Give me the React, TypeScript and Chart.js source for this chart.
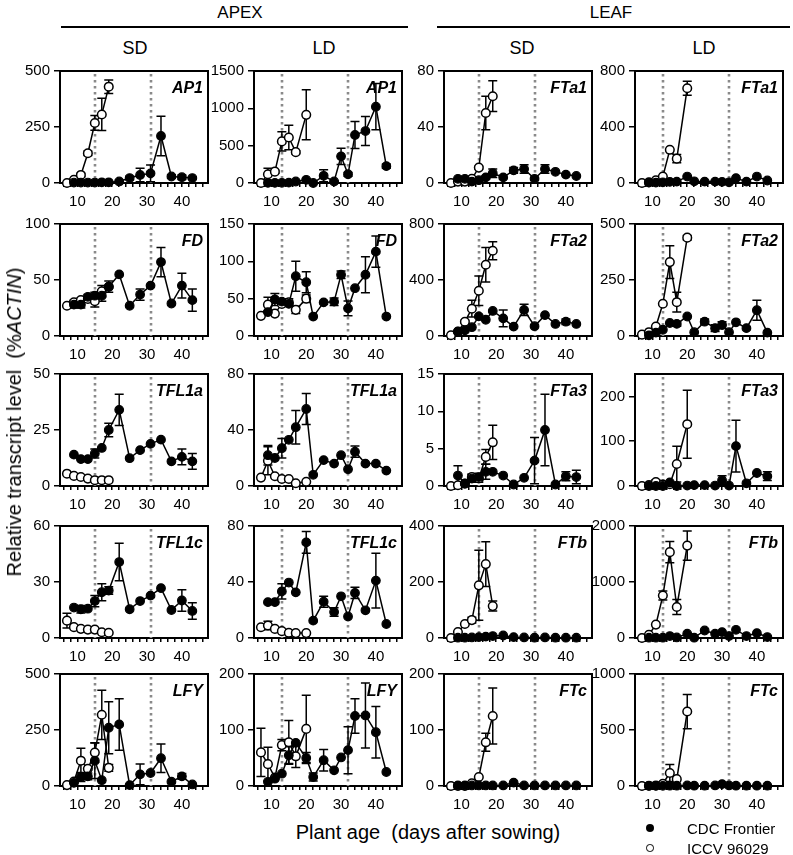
import React, { useEffect, useRef } from "react";
import { Chart, registerables } from "chart.js";

Chart.register(...registerables);

const FONT = 'Arial, "Liberation Sans", Helvetica, sans-serif';

// ---- sampling days ----
const SD_CDC_DAYS = [9, 11, 13, 15, 17, 19, 22, 25, 28, 31, 34, 37, 40, 43];
const SD_ICCV_DAYS = [7, 9, 11, 13, 15, 17, 19];
const LD_CDC_DAYS = [9, 11, 13, 15, 17, 20, 22, 25, 28, 30, 32, 34, 37, 40, 43];
const LD_ICCV_DAYS = [7, 9, 11, 13, 15, 17, 20];
const SD_MARKS = [15, 31];
const LD_MARKS = [13, 32];
const X_TICKS = [6, 8, 10, 12, 14, 16, 18, 20, 22, 24, 26, 28, 30, 32, 34, 36, 38, 40, 42, 44, 46];

// ---- APEX ----
const AP1_SD_TICKS = [0, 250, 500];
const AP1_SD_CDC = [2, 2, 2, 2, 3, 3, 7, 22, 36, 43, 210, 29, 26, 22];
const AP1_SD_CDC_ERR = [0, 0, 0, 0, 0, 0, 5, 8, 30, 37, 88, 8, 10, 5];
const AP1_SD_ICCV = [0, 14, 36, 133, 268, 306, 430];
const AP1_SD_ICCV_ERR = [0, 5, 8, 10, 33, 72, 30];

const AP1_LD_TICKS = [0, 500, 1000, 1500];
const AP1_LD_CDC = [2, 2, 3, 5, 20, 43, 0, 96, 20, 357, 117, 643, 696, 1022, 226];
const AP1_LD_CDC_ERR = [0, 0, 0, 0, 5, 10, 0, 80, 10, 110, 25, 180, 195, 310, 30];
const AP1_LD_ICCV = [0, 117, 152, 557, 609, 413, 913];
const AP1_LD_ICCV_ERR = [0, 80, 20, 130, 165, 20, 335];

const FD_SD_TICKS = [0, 50, 100];
const FD_SD_CDC = [28, 28, 35, 36, 36, 44, 55, 27, 37, 45, 66, 29, 45, 32];
const FD_SD_CDC_ERR = [3, 3, 2, 3, 5, 5, 0, 0, 5, 0, 13, 0, 11, 10];
const FD_SD_ICCV = [27, 30, 32, 33, 31, 40, 44];
const FD_SD_ICCV_ERR = [0, 2, 2, 0, 5, 5, 0];

const FD_LD_TICKS = [0, 50, 100, 150];
const FD_LD_CDC = [32, 49, 46, 43, 80, 72, 26, 45, 46, 82, 37, 64, 82, 113, 26];
const FD_LD_CDC_ERR = [0, 8, 0, 0, 20, 14, 0, 0, 5, 5, 10, 0, 24, 21, 0];
const FD_LD_ICCV = [27, 42, 30, 43, 45, 35, 50];
const FD_LD_ICCV_ERR = [0, 10, 0, 0, 5, 5, 5];

const TFL1A_SD_TICKS = [0, 25, 50];
const TFL1A_SD_CDC = [14, 12, 12, 14.5, 17, 25, 34, 12.4, 16, 18.8, 20.7, 11, 13, 11];
const TFL1A_SD_CDC_ERR = [0, 0, 0, 2, 0, 3, 7, 0, 0, 0, 0, 0, 3.5, 3.5];
const TFL1A_SD_ICCV = [5.5, 4.5, 4, 3.3, 2.6, 2.6, 2.6];
const TFL1A_SD_ICCV_ERR = [0, 0, 0, 0, 0, 0, 0];

const TFL1A_LD_TICKS = [0, 40, 80];
const TFL1A_LD_CDC = [22, 20, 27, 33, 42, 55, 8, 18.5, 16, 22, 12, 24.5, 16, 16, 11];
const TFL1A_LD_CDC_ERR = [7, 0, 7, 0, 12, 11, 0, 0, 0, 0, 0, 4, 0, 0, 0];
const TFL1A_LD_ICCV = [6, 18, 7, 5, 5, 2, 3];
const TFL1A_LD_ICCV_ERR = [0, 10, 0, 0, 0, 0, 0];

const TFL1C_SD_TICKS = [0, 30, 60];
const TFL1C_SD_CDC = [16.3, 15.4, 15.7, 19.8, 24.5, 25.4, 40.7, 15.4, 19.8, 22.7, 26.7, 15, 20.1, 14.5];
const TFL1C_SD_CDC_ERR = [0, 2, 0, 3, 4.5, 2, 10, 0, 0, 0, 0, 0, 5.8, 4.4];
const TFL1C_SD_ICCV = [9.3, 5.8, 4.9, 4.5, 4.5, 3.1, 2.8];
const TFL1C_SD_ICCV_ERR = [4, 0, 0, 0, 0, 0, 0];

const TFL1C_LD_TICKS = [0, 40, 80];
const TFL1C_LD_CDC = [25.6, 25.6, 33.3, 39.6, 32.6, 68.3, 12.4, 25.9, 18.6, 29.8, 15.4, 32.2, 19.8, 41, 10];
const TFL1C_LD_CDC_ERR = [0, 0, 5.4, 0, 0, 7.7, 0, 4, 3, 0, 0, 4, 0, 19.6, 0];
const TFL1C_LD_ICCV = [7.7, 8.9, 6.5, 4.9, 3.7, 3.5, 3.5];
const TFL1C_LD_ICCV_ERR = [0, 3, 0, 0, 0, 0, 0];

const LFY_SD_TICKS = [0, 250, 500];
const LFY_SD_CDC = [14, 40, 43, 113, 26, 260, 275, 4, 52, 58, 124, 19, 43, 7];
const LFY_SD_CDC_ERR = [0, 20, 15, 80, 0, 116, 115, 0, 46, 0, 64, 0, 13, 0];
const LFY_SD_ICCV = [4, 20, 113, 77, 149, 318, 81];
const LFY_SD_ICCV_ERR = [0, 0, 55, 0, 43, 110, 15];

const LFY_LD_TICKS = [0, 100, 200];
const LFY_LD_CDC = [7.5, 13, 22, 55, 77, 50, 16, 46, 28, 51, 64, 125, 126, 96, 25];
const LFY_LD_CDC_ERR = [0, 0, 0, 15, 0, 10, 7, 19, 0, 0, 42, 31, 58, 46, 0];
const LFY_LD_ICCV = [60, 39, 15, 73, 78, 53, 102];
const LFY_LD_ICCV_ERR = [43, 30, 0, 10, 39, 20, 60];

// ---- LEAF ----
const FTA1_SD_TICKS = [0, 40, 80];
const FTA1_SD_CDC = [3, 3, 1, 2, 4, 7, 4, 9, 10, 3, 10, 8, 6, 5];
const FTA1_SD_CDC_ERR = [0, 0, 0, 1, 1, 3, 0, 2, 3, 1, 3, 0, 0, 0];
const FTA1_SD_ICCV = [0, 1, 1, 3, 11, 50, 62];
const FTA1_SD_ICCV_ERR = [0, 0, 0, 1, 1, 12, 11];

const FTA1_LD_TICKS = [0, 400, 800];
const FTA1_LD_CDC = [3, 3, 5, 8, 10, 46, 12, 10, 10, 8, 5, 35, 10, 46, 18];
const FTA1_LD_CDC_ERR = [0, 0, 0, 0, 0, 5, 0, 0, 0, 0, 0, 0, 0, 0, 0];
const FTA1_LD_ICCV = [0, 5, 20, 46, 237, 174, 677];
const FTA1_LD_ICCV_ERR = [0, 0, 0, 0, 0, 30, 50];

const FTA2_SD_TICKS = [0, 400, 800];
const FTA2_SD_CDC = [33, 40, 63, 140, 116, 179, 126, 67, 186, 70, 149, 86, 102, 86];
const FTA2_SD_CDC_ERR = [0, 0, 0, 0, 0, 0, 60, 0, 40, 0, 0, 0, 20, 0];
const FTA2_SD_ICCV = [5, 30, 102, 195, 323, 509, 609];
const FTA2_SD_ICCV_ERR = [0, 0, 10, 60, 105, 123, 65];

const FTA2_LD_TICKS = [0, 250, 500];
const FTA2_LD_CDC = [3, 15, 28, 58, 54, 87, 17, 64, 35, 49, 17, 61, 35, 115, 15];
const FTA2_LD_CDC_ERR = [0, 0, 0, 0, 10, 0, 0, 12, 15, 15, 0, 0, 0, 45, 0];
const FTA2_LD_ICCV = [6, 17, 42, 144, 330, 151, 439];
const FTA2_LD_ICCV_ERR = [0, 0, 0, 0, 73, 44, 10];

const FTA3_SD_TICKS = [0, 5, 10, 15];
const FTA3_SD_CDC = [1.4, 0.35, 1, 1.2, 1.9, 1.9, 1.4, 0.2, 1.1, 3.4, 7.5, 0.2, 1.3, 1.2];
const FTA3_SD_CDC_ERR = [1.3, 0, 0.5, 0.5, 1, 0, 0, 0, 0, 3.1, 4.8, 0, 0.6, 0.9];
const FTA3_SD_ICCV = [0, 0.1, 0.3, 1.2, 1, 3.9, 5.85];
const FTA3_SD_ICCV_ERR = [0, 0, 0, 0.4, 0.5, 1, 2.3];

const FTA3_LD_TICKS = [0, 100, 200];
const FTA3_LD_CDC = [0, 0, 0, 8, 0, 1, 2, 2, 1, 13, 1, 89, 6, 29, 22];
const FTA3_LD_CDC_ERR = [0, 0, 0, 0, 0, 0, 0, 0, 0, 10, 0, 58, 0, 0, 10];
const FTA3_LD_ICCV = [0, 2, 9, 3, 4, 49, 138];
const FTA3_LD_ICCV_ERR = [0, 0, 5, 0, 0, 40, 76];

const FTB_SD_TICKS = [0, 200, 400];
const FTB_SD_CDC = [1, 1, 2, 3, 5, 7, 9, 3, 2, 1, 2, 1, 1, 1];
const FTB_SD_CDC_ERR = [0, 0, 0, 0, 0, 0, 0, 0, 0, 0, 0, 0, 0, 0];
const FTB_SD_ICCV = [0, 21, 50, 64, 188, 264, 114];
const FTB_SD_ICCV_ERR = [0, 0, 0, 10, 125, 80, 18];

const FTB_LD_TICKS = [0, 1000, 2000];
const FTB_LD_CDC = [5, 5, 5, 35, 10, 76, 6, 134, 76, 105, 35, 146, 35, 87, 17];
const FTB_LD_CDC_ERR = [0, 0, 0, 0, 0, 0, 0, 0, 0, 0, 0, 0, 0, 0, 0];
const FTB_LD_ICCV = [0, 58, 239, 758, 1533, 554, 1650];
const FTB_LD_ICCV_ERR = [0, 0, 0, 80, 190, 135, 262];

const FTC_SD_TICKS = [0, 100, 200];
const FTC_SD_CDC = [1, 1, 1, 1, 1, 1, 1, 6, 1, 1, 1, 1, 1, 1];
const FTC_SD_CDC_ERR = [0, 0, 0, 0, 0, 0, 0, 0, 0, 0, 0, 0, 0, 0];
const FTC_SD_ICCV = [0, 0, 0, 5, 16, 78, 125];
const FTC_SD_ICCV_ERR = [0, 0, 0, 0, 0, 16, 50];

const FTC_LD_TICKS = [0, 500, 1000];
const FTC_LD_CDC = [2, 2, 2, 3, 3, 5, 3, 3, 5, 17, 5, 3, 3, 3, 3];
const FTC_LD_CDC_ERR = [0, 0, 0, 0, 0, 0, 0, 0, 0, 0, 0, 0, 0, 0, 0];
const FTC_LD_ICCV = [0, 2, 5, 20, 116, 61, 665];
const FTC_LD_ICCV_ERR = [0, 0, 0, 0, 75, 0, 153];

// ---- layout (plot area positions) ----
const COL_LEFT = [60, 254, 444, 635];
const ROW_TOP = [68, 221, 371, 523, 671];
const PLOT_W = 148;
const PLOT_H = 115;
const PAD_TOP = 10;
const PAD_RIGHT = 8;
const Y_AXIS_W = 46;
const X_AXIS_H = 32;

const PANELS = [
  { row: 0, col: 0, gene: "AP1", sd: true, yMax: 500, ticks: AP1_SD_TICKS, cdc: AP1_SD_CDC, cdcErr: AP1_SD_CDC_ERR, iccv: AP1_SD_ICCV, iccvErr: AP1_SD_ICCV_ERR },
  { row: 0, col: 1, gene: "AP1", sd: false, yMax: 1500, ticks: AP1_LD_TICKS, cdc: AP1_LD_CDC, cdcErr: AP1_LD_CDC_ERR, iccv: AP1_LD_ICCV, iccvErr: AP1_LD_ICCV_ERR },
  { row: 0, col: 2, gene: "FTa1", sd: true, yMax: 80, ticks: FTA1_SD_TICKS, cdc: FTA1_SD_CDC, cdcErr: FTA1_SD_CDC_ERR, iccv: FTA1_SD_ICCV, iccvErr: FTA1_SD_ICCV_ERR },
  { row: 0, col: 3, gene: "FTa1", sd: false, yMax: 800, ticks: FTA1_LD_TICKS, cdc: FTA1_LD_CDC, cdcErr: FTA1_LD_CDC_ERR, iccv: FTA1_LD_ICCV, iccvErr: FTA1_LD_ICCV_ERR },
  { row: 1, col: 0, gene: "FD", sd: true, yMax: 100, ticks: FD_SD_TICKS, cdc: FD_SD_CDC, cdcErr: FD_SD_CDC_ERR, iccv: FD_SD_ICCV, iccvErr: FD_SD_ICCV_ERR },
  { row: 1, col: 1, gene: "FD", sd: false, yMax: 150, ticks: FD_LD_TICKS, cdc: FD_LD_CDC, cdcErr: FD_LD_CDC_ERR, iccv: FD_LD_ICCV, iccvErr: FD_LD_ICCV_ERR },
  { row: 1, col: 2, gene: "FTa2", sd: true, yMax: 800, ticks: FTA2_SD_TICKS, cdc: FTA2_SD_CDC, cdcErr: FTA2_SD_CDC_ERR, iccv: FTA2_SD_ICCV, iccvErr: FTA2_SD_ICCV_ERR },
  { row: 1, col: 3, gene: "FTa2", sd: false, yMax: 500, ticks: FTA2_LD_TICKS, cdc: FTA2_LD_CDC, cdcErr: FTA2_LD_CDC_ERR, iccv: FTA2_LD_ICCV, iccvErr: FTA2_LD_ICCV_ERR },
  { row: 2, col: 0, gene: "TFL1a", sd: true, yMax: 50, ticks: TFL1A_SD_TICKS, cdc: TFL1A_SD_CDC, cdcErr: TFL1A_SD_CDC_ERR, iccv: TFL1A_SD_ICCV, iccvErr: TFL1A_SD_ICCV_ERR },
  { row: 2, col: 1, gene: "TFL1a", sd: false, yMax: 80, ticks: TFL1A_LD_TICKS, cdc: TFL1A_LD_CDC, cdcErr: TFL1A_LD_CDC_ERR, iccv: TFL1A_LD_ICCV, iccvErr: TFL1A_LD_ICCV_ERR },
  { row: 2, col: 2, gene: "FTa3", sd: true, yMax: 15, ticks: FTA3_SD_TICKS, cdc: FTA3_SD_CDC, cdcErr: FTA3_SD_CDC_ERR, iccv: FTA3_SD_ICCV, iccvErr: FTA3_SD_ICCV_ERR },
  { row: 2, col: 3, gene: "FTa3", sd: false, yMax: 250, ticks: FTA3_LD_TICKS, cdc: FTA3_LD_CDC, cdcErr: FTA3_LD_CDC_ERR, iccv: FTA3_LD_ICCV, iccvErr: FTA3_LD_ICCV_ERR },
  { row: 3, col: 0, gene: "TFL1c", sd: true, yMax: 60, ticks: TFL1C_SD_TICKS, cdc: TFL1C_SD_CDC, cdcErr: TFL1C_SD_CDC_ERR, iccv: TFL1C_SD_ICCV, iccvErr: TFL1C_SD_ICCV_ERR },
  { row: 3, col: 1, gene: "TFL1c", sd: false, yMax: 80, ticks: TFL1C_LD_TICKS, cdc: TFL1C_LD_CDC, cdcErr: TFL1C_LD_CDC_ERR, iccv: TFL1C_LD_ICCV, iccvErr: TFL1C_LD_ICCV_ERR },
  { row: 3, col: 2, gene: "FTb", sd: true, yMax: 400, ticks: FTB_SD_TICKS, cdc: FTB_SD_CDC, cdcErr: FTB_SD_CDC_ERR, iccv: FTB_SD_ICCV, iccvErr: FTB_SD_ICCV_ERR },
  { row: 3, col: 3, gene: "FTb", sd: false, yMax: 2000, ticks: FTB_LD_TICKS, cdc: FTB_LD_CDC, cdcErr: FTB_LD_CDC_ERR, iccv: FTB_LD_ICCV, iccvErr: FTB_LD_ICCV_ERR },
  { row: 4, col: 0, gene: "LFY", sd: true, yMax: 500, ticks: LFY_SD_TICKS, cdc: LFY_SD_CDC, cdcErr: LFY_SD_CDC_ERR, iccv: LFY_SD_ICCV, iccvErr: LFY_SD_ICCV_ERR },
  { row: 4, col: 1, gene: "LFY", sd: false, yMax: 200, ticks: LFY_LD_TICKS, cdc: LFY_LD_CDC, cdcErr: LFY_LD_CDC_ERR, iccv: LFY_LD_ICCV, iccvErr: LFY_LD_ICCV_ERR },
  { row: 4, col: 2, gene: "FTc", sd: true, yMax: 200, ticks: FTC_SD_TICKS, cdc: FTC_SD_CDC, cdcErr: FTC_SD_CDC_ERR, iccv: FTC_SD_ICCV, iccvErr: FTC_SD_ICCV_ERR },
  { row: 4, col: 3, gene: "FTc", sd: false, yMax: 1000, ticks: FTC_LD_TICKS, cdc: FTC_LD_CDC, cdcErr: FTC_LD_CDC_ERR, iccv: FTC_LD_ICCV, iccvErr: FTC_LD_ICCV_ERR },
];

const CANVAS_W = Y_AXIS_W + PLOT_W + PAD_RIGHT;
const CANVAS_H = PAD_TOP + PLOT_H + X_AXIS_H;

function Panel({ p }: { p: any }) {
  const ref = useRef<HTMLCanvasElement | null>(null);
  useEffect(() => {
    if (!ref.current) return;
    const cdcDays = p.sd ? SD_CDC_DAYS : LD_CDC_DAYS;
    const iccvDays = p.sd ? SD_ICCV_DAYS : LD_ICCV_DAYS;
    const marks = p.sd ? SD_MARKS : LD_MARKS;

    const deco = {
      id: "deco",
      beforeDatasetsDraw(chart: any) {
        const { ctx, chartArea: a, scales } = chart;
        const xs = scales.x;
        const ys = scales.y;
        ctx.save();
        // dotted markers
        ctx.strokeStyle = "#8a8a8a";
        ctx.lineWidth = 2.6;
        ctx.setLineDash([2.4, 3.6]);
        for (const d of marks) {
          const px = Math.round(xs.getPixelForValue(d));
          ctx.beginPath();
          ctx.moveTo(px, a.top + 3);
          ctx.lineTo(px, a.bottom);
          ctx.stroke();
        }
        ctx.setLineDash([]);
        // frame top & right
        ctx.strokeStyle = "#000";
        ctx.lineWidth = 2;
        ctx.beginPath();
        ctx.moveTo(a.left, a.top);
        ctx.lineTo(a.right, a.top);
        ctx.lineTo(a.right, a.bottom + 1);
        ctx.stroke();
        // error bars
        ctx.lineWidth = 1.5;
        chart.data.datasets.forEach((ds: any) => {
          const errs = ds.errors || [];
          ds.data.forEach((pt: any, j: number) => {
            const e = errs[j];
            if (!e) return;
            const px = xs.getPixelForValue(pt.x);
            const yt = ys.getPixelForValue(pt.y + e);
            const yb = ys.getPixelForValue(Math.max(0, pt.y - e));
            ctx.beginPath();
            ctx.moveTo(px, yt);
            ctx.lineTo(px, yb);
            ctx.moveTo(px - 4.5, yt);
            ctx.lineTo(px + 4.5, yt);
            ctx.moveTo(px - 4.5, yb);
            ctx.lineTo(px + 4.5, yb);
            ctx.stroke();
          });
        });
        ctx.restore();
      },
      afterDraw(chart: any) {
        const { ctx, chartArea: a } = chart;
        ctx.save();
        ctx.font = `italic bold 16px ${FONT}`;
        ctx.fillStyle = "#000";
        ctx.textAlign = "right";
        ctx.textBaseline = "alphabetic";
        ctx.fillText(p.gene, a.right - 5, a.top + 22);
        ctx.restore();
      },
    };

    const chart = new Chart(ref.current, {
      type: "line",
      data: {
        datasets: [
          {
            label: "CDC Frontier",
            data: cdcDays.map((d: number, i: number) => ({ x: d, y: p.cdc[i] })),
            errors: p.cdcErr,
            borderColor: "#000",
            borderWidth: 1.5,
            pointRadius: 4.3,
            pointBackgroundColor: "#000",
            pointBorderColor: "#000",
            pointBorderWidth: 1.2,
            tension: 0,
            clip: false,
          } as any,
          {
            label: "ICCV 96029",
            data: iccvDays.map((d: number, i: number) => ({ x: d, y: p.iccv[i] })),
            errors: p.iccvErr,
            borderColor: "#000",
            borderWidth: 1.5,
            pointRadius: 4.3,
            pointBackgroundColor: "#fff",
            pointBorderColor: "#000",
            pointBorderWidth: 1.5,
            tension: 0,
            clip: false,
          } as any,
        ],
      },
      options: {
        animation: false,
        responsive: false,
        devicePixelRatio: 1,
        layout: { padding: { top: PAD_TOP, right: PAD_RIGHT, left: 0, bottom: 0 } },
        plugins: { legend: { display: false }, tooltip: { enabled: false } },
        events: [],
        scales: {
          x: {
            type: "linear",
            min: 5,
            max: 47.5,
            afterBuildTicks: (s: any) => {
              s.ticks = X_TICKS.map((v) => ({ value: v }));
            },
            afterFit: (s: any) => {
              s.height = X_AXIS_H;
            },
            ticks: {
              autoSkip: false,
              maxRotation: 0,
              padding: 6,
              color: "#000",
              font: { size: 15, family: FONT },
              callback: (v: any) => (Number(v) % 10 === 0 ? String(v) : ""),
            },
            grid: { drawOnChartArea: false, drawTicks: true, tickLength: 4, color: "#000", tickColor: "#000", lineWidth: 1.5 },
            border: { display: true, color: "#000", width: 2 },
          },
          y: {
            type: "linear",
            min: 0,
            max: p.yMax,
            afterBuildTicks: (s: any) => {
              s.ticks = p.ticks.map((v: number) => ({ value: v }));
            },
            afterFit: (s: any) => {
              s.width = Y_AXIS_W;
            },
            ticks: {
              autoSkip: false,
              padding: 4,
              color: "#000",
              font: { size: 15, family: FONT },
              callback: (v: any) => String(v),
            },
            grid: { drawOnChartArea: false, drawTicks: true, tickLength: 6, color: "#000", tickColor: "#000", lineWidth: 1.5 },
            border: { display: true, color: "#000", width: 2 },
          },
        },
      } as any,
      plugins: [deco],
    });
    return () => chart.destroy();
  }, [p]);

  const left = COL_LEFT[p.col] - Y_AXIS_W;
  const top = ROW_TOP[p.row] - PAD_TOP;
  return (
    <canvas
      ref={ref}
      width={CANVAS_W}
      height={CANVAS_H}
      style={{ position: "absolute", left, top, width: CANVAS_W, height: CANVAS_H }}
    />
  );
}

const txt = (extra: any) => ({
  position: "absolute" as const,
  fontFamily: FONT,
  color: "#000",
  whiteSpace: "nowrap" as const,
  lineHeight: 1,
  ...extra,
});

export default function App() {
  return (
    <div style={{ position: "absolute", left: 0, top: 0, width: 793, height: 855, background: "#fff", overflow: "hidden" }}>
      {/* group headers */}
      <div style={txt({ left: 240, top: 12, fontSize: 17, transform: "translate(-50%, -50%)" })}>APEX</div>
      <div style={txt({ left: 611, top: 12, fontSize: 17, transform: "translate(-50%, -50%)" })}>LEAF</div>
      <div style={{ position: "absolute", left: 61, top: 26, width: 347, height: 2, background: "#000" }} />
      <div style={{ position: "absolute", left: 437, top: 26, width: 353, height: 2, background: "#000" }} />
      <div style={txt({ left: 135, top: 48, fontSize: 18, transform: "translate(-50%, -50%)" })}>SD</div>
      <div style={txt({ left: 324, top: 48, fontSize: 18, transform: "translate(-50%, -50%)" })}>LD</div>
      <div style={txt({ left: 522, top: 48, fontSize: 18, transform: "translate(-50%, -50%)" })}>SD</div>
      <div style={txt({ left: 704, top: 48, fontSize: 18, transform: "translate(-50%, -50%)" })}>LD</div>

      {PANELS.map((p, i) => (
        <Panel key={i} p={p} />
      ))}

      {/* y-axis title */}
      <div style={txt({ left: 14, top: 422, fontSize: 20, transform: "translate(-50%, -50%) rotate(-90deg)" })}>
        Relative transcript level&nbsp;&nbsp;(%<i>ACTIN</i>)
      </div>
      {/* x-axis title */}
      <div style={txt({ left: 428, top: 832, fontSize: 20, transform: "translate(-50%, -50%)" })}>
        Plant age&nbsp;&nbsp;(days after sowing)
      </div>

      {/* legend */}
      <div style={{ position: "absolute", left: 646, top: 824, width: 8, height: 8, borderRadius: "50%", background: "#000" }} />
      <div style={txt({ left: 687, top: 828, fontSize: 15, transform: "translateY(-50%)" })}>CDC Frontier</div>
      <div style={{ position: "absolute", left: 646, top: 844, width: 5.5, height: 5.5, borderRadius: "50%", border: "1.3px solid #000", background: "#fff" }} />
      <div style={txt({ left: 687, top: 848, fontSize: 15, transform: "translateY(-50%)" })}>ICCV 96029</div>
    </div>
  );
}
